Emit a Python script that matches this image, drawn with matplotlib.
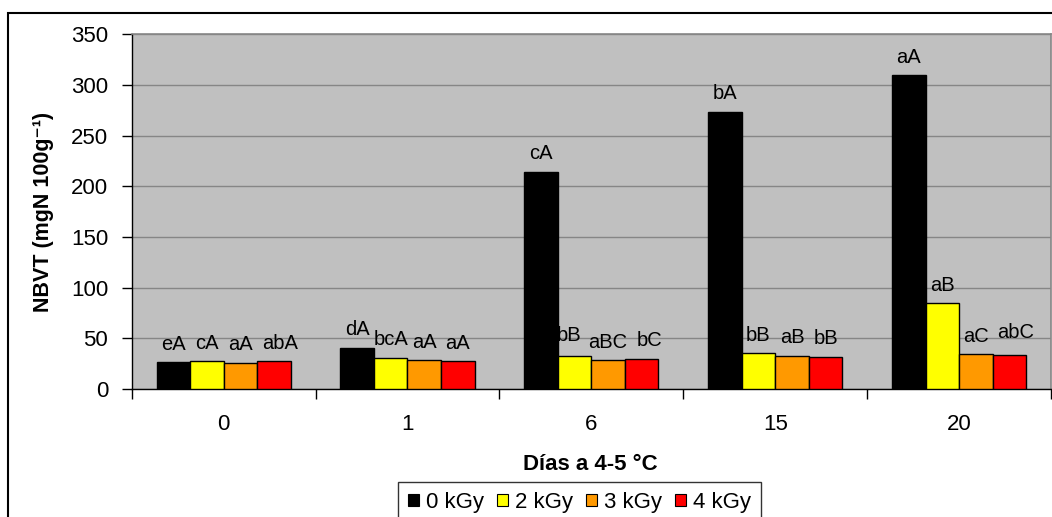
import numpy as np
import matplotlib
matplotlib.use('Agg')
import matplotlib.pyplot as plt
from matplotlib.patches import Rectangle, Patch

plt.rcParams['font.family'] = ['Liberation Sans', 'DejaVu Sans']

days = ['0', '1', '6', '15', '20']
doses = ['0 kGy', '2 kGy', '3 kGy', '4 kGy']
colors = ['#000000', '#ffff00', '#ff9900', '#ff0000']

# NBVT per dose (rows) and storage day (columns)
nbvt_0 = [26.3, 40.5, 214.4, 273.6, 309.8]
nbvt_2 = [27.6, 30.9, 32.9, 35.5, 84.6]
nbvt_3 = [25.7, 28.3, 28.6, 32.9, 34.2]
nbvt_4 = [27.6, 27.3, 29.9, 31.6, 33.3]

letters_0 = ['eA', 'dA', 'cA', 'bA', 'aA']
letters_2 = ['cA', 'bcA', 'bB', 'bB', 'aB']
letters_3 = ['aA', 'aA', 'aBC', 'aB', 'aC']
letters_4 = ['abA', 'aA', 'bC', 'bB', 'abC']

series = [nbvt_0, nbvt_2, nbvt_3, nbvt_4]
letters = [letters_0, letters_2, letters_3, letters_4]

W, H = 1052, 517
fig = plt.figure(figsize=(W / 100, H / 100), dpi=100)
ax = fig.add_axes([131.7 / W, 1 - 389 / H, (1051 - 131.7) / W, (389 - 34.3) / H])
ax.set_facecolor('#c0c0c0')

x = np.arange(len(days))
bw = 0.1825
# label nudges in pixels (series, day) -> (dx, dy)
nudge = {(3, 0): (6, 0), (3, 2): (8, 0), (1, 2): (-6, 2), (3, 4): (6, 5)}
for i, (vals, col) in enumerate(zip(series, colors)):
    pos = x + (i - 1.5) * bw
    ax.bar(pos, vals, bw, color=col, edgecolor='black', linewidth=1.0, zorder=3, label=doses[i])
    for j, (p, v) in enumerate(zip(pos, vals)):
        dx, dy = nudge.get((i, j), (0, 0))
        ax.annotate(letters[i][j], (p, v), xytext=(dx * 0.72, (12.5 + dy) * 0.72),
                    textcoords='offset points', ha='center', va='baseline',
                    fontsize=14.5, zorder=2.5)

ax.set_xlim(-0.5, 4.5)
ax.set_ylim(0, 350)
ax.set_yticks(np.arange(0, 351, 50))
ax.yaxis.grid(True, color='#868686', linewidth=1.0)
ax.set_axisbelow(True)

ax.set_xticks(x)
ax.set_xticklabels(days)
ax.set_xticks(np.arange(-0.5, 4.6, 1), minor=True)
ax.tick_params(axis='x', which='major', length=0, pad=18, labelsize=16)
ax.tick_params(axis='x', which='minor', length=7, width=1, direction='out')
ax.tick_params(axis='y', length=7, width=1, direction='out', pad=10, labelsize=16)

for s in ['top', 'right']:
    ax.spines[s].set_color('#868686')
    ax.spines[s].set_linewidth(1.2)
for s in ['left', 'bottom']:
    ax.spines[s].set_color('black')
    ax.spines[s].set_linewidth(1.0)

fig.text(44 / W, 1 - 212 / H, 'NBVT (mgN 100g⁻¹)', rotation=90,
         ha='center', va='center', fontsize=15.5, fontweight='bold')
fig.text(590 / W, 1 - 465 / H, 'Días a 4-5 °C', ha='center', va='center',
         fontsize=16, fontweight='bold')

handles = [Patch(facecolor=c, edgecolor='black', linewidth=0.8) for c in colors]
leg = fig.legend(handles, doses, loc='upper left', bbox_to_anchor=(398 / W, 1 - 482 / H),
                 ncol=4, fontsize=16, frameon=True, fancybox=False, borderpad=0.45,
                 handlelength=0.5, handleheight=0.5, handletextpad=0.3,
                 columnspacing=0.6, borderaxespad=0)
leg.get_frame().set_edgecolor('black')
leg.get_frame().set_linewidth(1.0)

# outer chart frame
fig.patches.append(Rectangle((8 / W, -0.1), 1.2, 1.1 - 12.7 / H, transform=fig.transFigure,
                             fill=False, edgecolor='black', linewidth=1.5))

fig.savefig('out.png', dpi=100)
